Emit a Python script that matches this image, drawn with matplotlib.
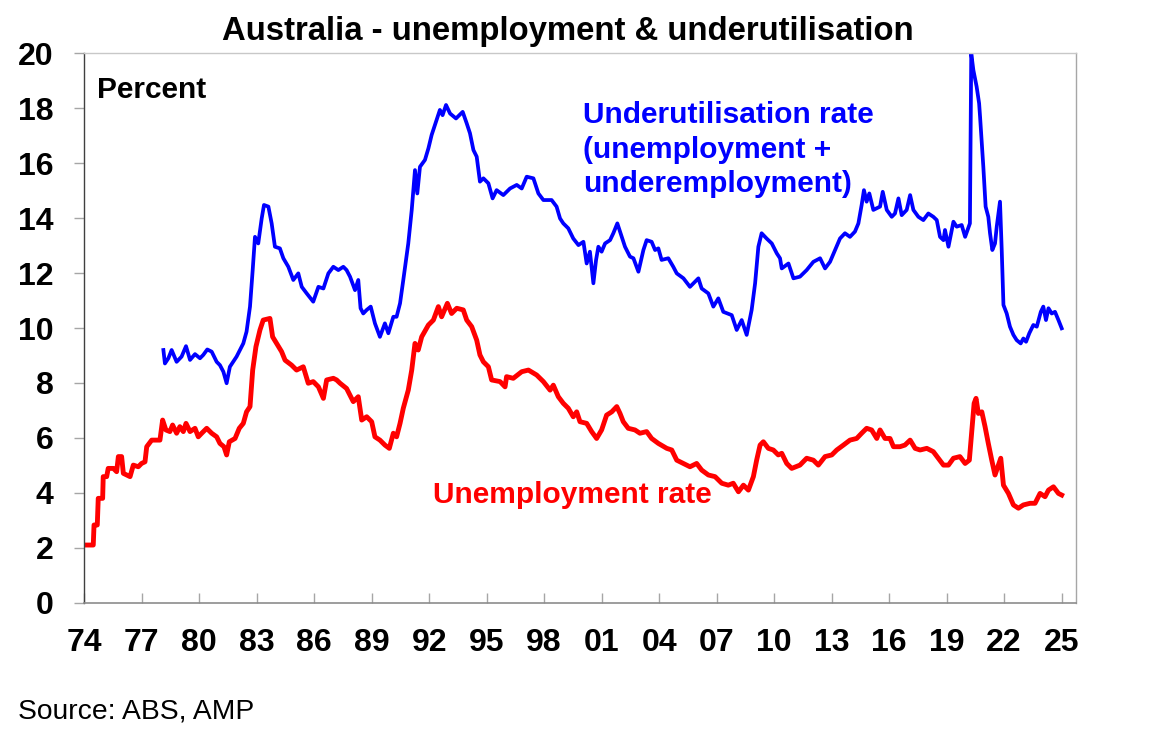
import matplotlib
matplotlib.use("Agg")
import matplotlib.pyplot as plt
from matplotlib.ticker import FixedLocator, FuncFormatter

#unemployment rate (decimal year, percent)
ur_year = [1974.00, 1974.47, 1974.51, 1974.68, 1974.73, 1974.96, 1974.99, 1975.17, 1975.25, 1975.52,
           1975.69, 1975.78, 1975.95, 1976.04, 1976.39, 1976.56, 1976.82, 1976.99, 1977.17, 1977.26,
           1977.52, 1977.95, 1978.09, 1978.26, 1978.47, 1978.61, 1978.82, 1978.99, 1979.17, 1979.31,
           1979.52, 1979.78, 1979.95, 1980.13, 1980.39, 1980.65, 1980.91, 1981.08, 1981.29, 1981.43,
           1981.57, 1981.87, 1982.09, 1982.30, 1982.47, 1982.65, 1982.79, 1982.96, 1983.17, 1983.34,
           1983.69, 1983.83, 1984.04, 1984.30, 1984.48, 1984.82, 1985.08, 1985.43, 1985.69, 1985.95,
           1986.22, 1986.48, 1986.65, 1987.00, 1987.17, 1987.35, 1987.69, 1988.04, 1988.30, 1988.48,
           1988.74, 1989.00, 1989.17, 1989.43, 1989.69, 1989.92, 1990.13, 1990.30, 1990.48, 1990.65,
           1990.91, 1991.09, 1991.26, 1991.43, 1991.61, 1991.96, 1992.22, 1992.48, 1992.65, 1992.95,
           1993.17, 1993.44, 1993.78, 1993.96, 1994.22, 1994.48, 1994.65, 1994.83, 1995.09, 1995.26,
           1995.70, 1995.96, 1996.04, 1996.39, 1996.83, 1997.18, 1997.61, 1997.96, 1998.31, 1998.48,
           1998.74, 1999.00, 1999.26, 1999.52, 1999.70, 1999.87, 2000.22, 2000.48, 2000.74, 2001.00,
           2001.26, 2001.53, 2001.79, 2001.96, 2002.13, 2002.39, 2002.74, 2003.00, 2003.35, 2003.61,
           2003.96, 2004.40, 2004.66, 2004.92, 2005.27, 2005.61, 2005.96, 2006.22, 2006.57, 2006.92,
           2007.27, 2007.61, 2007.87, 2008.14, 2008.40, 2008.66, 2008.92, 2009.09, 2009.27, 2009.44,
           2009.70, 2009.96, 2010.22, 2010.40, 2010.66, 2010.92, 2011.35, 2011.70, 2012.05, 2012.31,
           2012.66, 2013.01, 2013.27, 2013.62, 2013.96, 2014.31, 2014.57, 2014.83, 2015.09, 2015.36,
           2015.53, 2015.79, 2016.05, 2016.23, 2016.57, 2016.83, 2017.10, 2017.36, 2017.62, 2017.97,
           2018.31, 2018.57, 2018.84, 2019.10, 2019.36, 2019.70, 2019.97, 2020.19, 2020.31, 2020.44,
           2020.54, 2020.66, 2020.84, 2021.01, 2021.18, 2021.36, 2021.53, 2021.71, 2021.83, 2021.97,
           2022.23, 2022.49, 2022.75, 2023.01, 2023.36, 2023.62, 2023.88, 2024.14, 2024.32, 2024.58,
           2024.84, 2025.01]
ur_rate = [2.10, 2.10, 2.83, 2.83, 3.80, 3.80, 4.59, 4.59, 4.89, 4.89,
           4.77, 5.32, 5.32, 4.71, 4.59, 5.01, 4.95, 5.07, 5.13, 5.68,
           5.92, 5.92, 6.65, 6.29, 6.23, 6.47, 6.17, 6.41, 6.23, 6.53,
           6.23, 6.35, 6.04, 6.17, 6.35, 6.17, 6.04, 5.80, 5.68, 5.38,
           5.86, 5.98, 6.35, 6.53, 6.95, 7.14, 8.47, 9.32, 9.93, 10.29,
           10.35, 9.68, 9.44, 9.14, 8.83, 8.65, 8.47, 8.59, 7.99, 8.05,
           7.86, 7.44, 8.11, 8.17, 8.11, 7.99, 7.80, 7.32, 7.50, 6.65,
           6.77, 6.59, 6.04, 5.92, 5.74, 5.62, 6.17, 6.04, 6.53, 7.08,
           7.74, 8.47, 9.44, 9.20, 9.68, 10.11, 10.29, 10.78, 10.41, 10.90,
           10.53, 10.72, 10.66, 10.29, 10.05, 9.56, 9.02, 8.77, 8.59, 8.11,
           8.05, 7.86, 8.23, 8.17, 8.41, 8.47, 8.29, 8.05, 7.74, 7.92,
           7.50, 7.26, 7.08, 6.77, 6.95, 6.59, 6.53, 6.23, 5.98, 6.29,
           6.83, 6.95, 7.14, 6.89, 6.59, 6.35, 6.29, 6.17, 6.23, 5.98,
           5.80, 5.62, 5.56, 5.19, 5.07, 4.95, 5.07, 4.83, 4.65, 4.59,
           4.35, 4.28, 4.35, 4.04, 4.28, 4.10, 4.59, 5.19, 5.74, 5.86,
           5.62, 5.56, 5.38, 5.44, 5.07, 4.89, 5.01, 5.26, 5.19, 5.01,
           5.32, 5.38, 5.56, 5.74, 5.92, 5.98, 6.17, 6.35, 6.29, 5.98,
           6.29, 5.98, 5.98, 5.68, 5.68, 5.74, 5.92, 5.62, 5.56, 5.62,
           5.50, 5.26, 5.01, 5.01, 5.26, 5.32, 5.07, 5.19, 6.17, 7.26,
           7.44, 6.89, 6.95, 6.41, 5.80, 5.19, 4.65, 5.01, 5.26, 4.28,
           3.98, 3.56, 3.44, 3.56, 3.62, 3.62, 3.98, 3.86, 4.10, 4.22,
           3.98, 3.92]

#underutilisation rate (unemployment + underemployment)
uu_year = [1978.13, 1978.21, 1978.39, 1978.56, 1978.82, 1979.08, 1979.31, 1979.52, 1979.78, 1980.04,
           1980.21, 1980.42, 1980.65, 1980.91, 1981.08, 1981.26, 1981.43, 1981.60, 1981.95, 1982.30,
           1982.47, 1982.65, 1982.79, 1982.91, 1983.08, 1983.26, 1983.38, 1983.61, 1983.78, 1983.95,
           1984.21, 1984.39, 1984.65, 1984.91, 1985.17, 1985.35, 1985.61, 1985.95, 1986.22, 1986.48,
           1986.74, 1987.00, 1987.26, 1987.52, 1987.69, 1987.87, 1988.13, 1988.30, 1988.42, 1988.56,
           1988.74, 1988.95, 1989.17, 1989.43, 1989.69, 1989.87, 1990.13, 1990.30, 1990.48, 1990.65,
           1990.91, 1991.09, 1991.26, 1991.38, 1991.52, 1991.78, 1991.96, 1992.13, 1992.36, 1992.56,
           1992.70, 1992.88, 1993.09, 1993.40, 1993.75, 1993.96, 1994.13, 1994.31, 1994.48, 1994.65,
           1994.83, 1995.09, 1995.31, 1995.52, 1995.87, 1996.22, 1996.57, 1996.83, 1997.09, 1997.44,
           1997.70, 1997.96, 1998.39, 1998.65, 1998.83, 1999.00, 1999.26, 1999.52, 1999.79, 2000.05,
           2000.22, 2000.39, 2000.57, 2000.71, 2000.83, 2001.00, 2001.18, 2001.44, 2001.61, 2001.82,
           2001.96, 2002.22, 2002.48, 2002.66, 2002.92, 2003.18, 2003.35, 2003.61, 2003.79, 2003.96,
           2004.13, 2004.48, 2004.74, 2004.92, 2005.27, 2005.61, 2006.05, 2006.22, 2006.57, 2006.83,
           2007.09, 2007.35, 2007.79, 2008.05, 2008.31, 2008.57, 2008.83, 2009.01, 2009.18, 2009.35,
           2009.61, 2009.88, 2010.14, 2010.31, 2010.40, 2010.75, 2011.01, 2011.35, 2011.70, 2012.05,
           2012.40, 2012.66, 2012.92, 2013.18, 2013.44, 2013.70, 2013.96, 2014.22, 2014.40, 2014.57,
           2014.69, 2014.83, 2014.97, 2015.18, 2015.53, 2015.67, 2015.88, 2016.14, 2016.31, 2016.49,
           2016.66, 2016.92, 2017.10, 2017.27, 2017.53, 2017.79, 2018.05, 2018.31, 2018.49, 2018.66,
           2018.84, 2018.92, 2019.10, 2019.36, 2019.53, 2019.79, 2019.97, 2020.22, 2020.29, 2020.40,
           2020.57, 2020.70, 2020.75, 2020.92, 2021.04, 2021.18, 2021.27, 2021.39, 2021.53, 2021.62,
           2021.79, 2021.88, 2021.97, 2022.14, 2022.31, 2022.49, 2022.66, 2022.87, 2023.01, 2023.15,
           2023.32, 2023.53, 2023.71, 2023.92, 2024.05, 2024.19, 2024.32, 2024.49, 2024.66, 2024.84,
           2025.01]
uu_rate = [9.20, 8.71, 8.90, 9.20, 8.77, 8.96, 9.34, 8.84, 9.05, 8.90,
           9.02, 9.22, 9.14, 8.77, 8.65, 8.41, 7.99, 8.59, 8.96, 9.44,
           9.87, 10.78, 12.11, 13.32, 13.08, 13.99, 14.48, 14.42, 13.81, 12.96,
           12.90, 12.54, 12.23, 11.75, 11.99, 11.50, 11.26, 10.96, 11.50, 11.44,
           11.99, 12.23, 12.11, 12.23, 12.11, 11.87, 11.38, 11.75, 10.72, 10.53,
           10.66, 10.78, 10.17, 9.68, 10.17, 9.81, 10.41, 10.41, 10.90, 11.75,
           13.08, 14.30, 15.75, 14.90, 15.87, 16.12, 16.54, 17.03, 17.51, 17.94,
           17.75, 18.12, 17.81, 17.63, 17.87, 17.45, 17.09, 16.48, 16.24, 15.33,
           15.45, 15.27, 14.72, 15.02, 14.84, 15.08, 15.21, 15.08, 15.51, 15.45,
           14.90, 14.66, 14.66, 14.42, 13.99, 13.81, 13.63, 13.26, 13.02, 13.14,
           12.35, 12.78, 11.63, 12.48, 12.96, 12.78, 13.08, 13.20, 13.45, 13.81,
           13.51, 12.96, 12.60, 12.54, 12.05, 12.84, 13.20, 13.14, 12.84, 12.90,
           12.48, 12.54, 12.23, 11.99, 11.81, 11.50, 11.81, 11.44, 11.26, 10.78,
           11.08, 10.59, 10.47, 9.93, 10.29, 9.75, 10.66, 11.63, 12.96, 13.45,
           13.26, 13.08, 12.72, 12.54, 12.17, 12.35, 11.81, 11.87, 12.11, 12.41,
           12.54, 12.17, 12.41, 12.84, 13.26, 13.45, 13.32, 13.51, 13.81, 14.48,
           15.02, 14.60, 14.90, 14.30, 14.42, 14.96, 14.30, 14.05, 14.17, 14.72,
           14.11, 14.30, 14.84, 14.30, 14.05, 13.93, 14.17, 14.05, 13.93, 13.32,
           13.20, 13.57, 12.96, 13.87, 13.69, 13.75, 13.32, 13.81, 20.00, 19.39,
           18.79, 18.18, 17.69, 15.87, 14.42, 14.05, 13.45, 12.84, 13.08, 13.69,
           14.60, 12.84, 10.84, 10.53, 10.05, 9.75, 9.56, 9.44, 9.62, 9.50,
           9.81, 10.11, 10.05, 10.59, 10.78, 10.29, 10.72, 10.53, 10.59, 10.29,
           9.99]

xticks = list(range(1974, 2026, 3))
yticks = list(range(0, 21, 2))

plt.rcParams["font.family"] = ["Liberation Sans", "DejaVu Sans"]

fig = plt.figure(figsize=(11.51, 7.42), dpi=100)
ax = fig.add_axes([0.0732, 0.1877, 0.8617, 0.7404])

ax.plot(uu_year, uu_rate, color="#0000ff", lw=2.7, solid_joinstyle="round")
ax.plot(ur_year, ur_rate, color="#ff0000", lw=3.5, solid_joinstyle="round")

ax.set_xlim(1974, 2025.76)
ax.set_ylim(0, 20)

ax.xaxis.set_major_locator(FixedLocator(xticks))
ax.xaxis.set_major_formatter(FuncFormatter(lambda v, p: "%02d" % (int(round(v)) % 100)))
ax.yaxis.set_major_locator(FixedLocator(yticks))

ax.tick_params(axis="x", direction="in", length=7, width=1, color="#a6a6a6",
               labelsize=23, pad=18)
ax.tick_params(axis="y", direction="out", length=7, width=1, color="#a6a6a6",
               labelsize=23, pad=15)
for lab in ax.get_xticklabels() + ax.get_yticklabels():
    lab.set_fontweight("bold")

ax.spines["left"].set_color("#404040")
ax.spines["left"].set_linewidth(1.0)
ax.spines["bottom"].set_color("#8c8c8c")
ax.spines["bottom"].set_linewidth(1.2)
ax.spines["top"].set_color("#c8c8c8")
ax.spines["top"].set_linewidth(1.0)
ax.spines["right"].set_color("#a6a6a6")
ax.spines["right"].set_linewidth(1.0)

#titles and labels
fig.text(0.493, 1 - 40 / 742, "Australia - unemployment & underutilisation",
         ha="center", va="baseline", fontsize=23.7, fontweight="bold")
fig.text(96.7 / 1151, 1 - 97.7 / 742, "Percent", ha="left", va="baseline",
         fontsize=21.5, fontweight="bold")
blue_lines = ["Underutilisation rate", "(unemployment +", "underemployment)"]
for i, line in enumerate(blue_lines):
    fig.text(583.3 / 1151, 1 - (123.3 + 34.5 * i) / 742, line, ha="left", va="baseline",
             fontsize=21.5, fontweight="bold", color="#0000ff")
fig.text(432.7 / 1151, 1 - 503.3 / 742, "Unemployment rate", ha="left", va="baseline",
         fontsize=21.5, fontweight="bold", color="#ff0000")
fig.text(18.3 / 1151, 1 - 718.3 / 742, "Source: ABS, AMP", ha="left", va="baseline",
         fontsize=20.3)

plt.savefig("out.png", dpi=100)
